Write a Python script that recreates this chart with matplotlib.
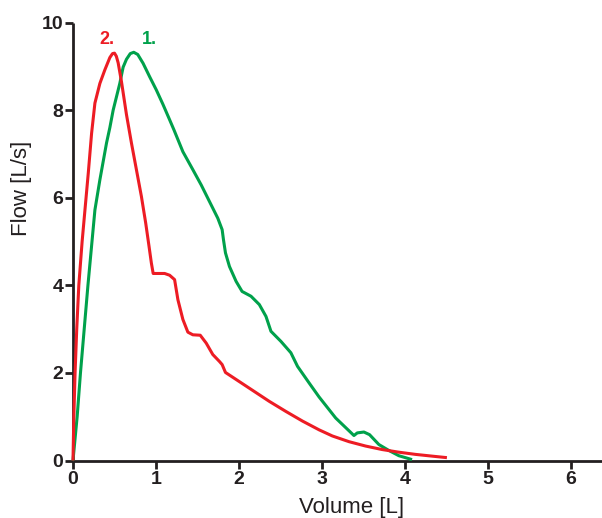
import matplotlib
matplotlib.use("Agg")
import matplotlib.pyplot as plt

# Data (Volume [L], Flow [L/s])
green_x = [0, 0.05, 0.09, 0.18, 0.264, 0.324, 0.404, 0.444, 0.484, 0.564, 0.604, 0.644,
           0.69, 0.732, 0.78, 0.844, 0.924, 1.004, 1.084, 1.164, 1.216, 1.324, 1.444,
           1.545, 1.645, 1.745, 1.797, 1.813, 1.837, 1.885, 1.965, 2.037, 2.145, 2.245,
           2.325, 2.385, 2.505, 2.625, 2.705, 2.845, 2.965, 3.165, 3.385, 3.425, 3.505,
           3.573, 3.685, 3.805, 3.925, 4.085]
green_y = [0, 1.0, 2.0, 4.0, 5.72, 6.41, 7.25, 7.6, 8.0, 8.61, 8.98, 9.16,
           9.29, 9.32, 9.27, 9.07, 8.76, 8.46, 8.13, 7.78, 7.55, 7.05, 6.64,
           6.29, 5.91, 5.53, 5.27, 5.04, 4.74, 4.43, 4.09, 3.86, 3.75, 3.56,
           3.29, 2.95, 2.72, 2.46, 2.15, 1.77, 1.45, 0.97, 0.57, 0.63, 0.65,
           0.59, 0.365, 0.23, 0.11, 0.02]

red_x = [0, 0.01, 0.025, 0.045, 0.07, 0.11, 0.144, 0.184, 0.224, 0.264, 0.324, 0.384,
         0.444, 0.476, 0.50, 0.522, 0.544, 0.584, 0.644, 0.704, 0.764, 0.824, 0.876,
         0.916, 0.944, 0.966, 1.104, 1.164, 1.224, 1.264, 1.324, 1.384, 1.444, 1.533,
         1.605, 1.684, 1.765, 1.797, 1.837, 1.965, 2.165, 2.365, 2.565, 2.765, 2.965,
         3.125, 3.325, 3.525, 3.725, 3.925, 4.125, 4.325, 4.505]
red_y = [0, 1.0, 2.0, 3.0, 4.0, 5.0, 5.72, 6.56, 7.47, 8.16, 8.61, 8.92,
         9.20, 9.29, 9.30, 9.23, 9.08, 8.65, 7.9, 7.25, 6.64, 6.03, 5.42,
         4.89, 4.51, 4.27, 4.27, 4.23, 4.13, 3.67, 3.22, 2.93, 2.87, 2.86,
         2.68, 2.42, 2.26, 2.19, 2.01, 1.85, 1.60, 1.35, 1.12, 0.90, 0.70,
         0.56, 0.43, 0.33, 0.25, 0.19, 0.14, 0.10, 0.065]

x_ticks = [0, 1, 2, 3, 4, 5, 6]
y_ticks = [0, 2, 4, 6, 8, 10]
labels = ["1.", "2."]
label_pos = [(0.92, 9.62), (0.41, 9.62)]

GREEN = "#00A14B"
RED = "#ED1C24"
INK = "#231F20"

plt.rcParams['font.family'] = ['Liberation Sans', 'DejaVu Sans']

fig = plt.figure(figsize=(6.02, 5.18), dpi=100)
ax = fig.add_axes([73 / 602, (518 - 460.5) / 518, 529 / 602, 438 / 518])

ax.plot(green_x, green_y, color=GREEN, lw=2.2, clip_on=False,
        solid_joinstyle='round', solid_capstyle='butt', zorder=3)
ax.plot(red_x, red_y, color=RED, lw=2.2, clip_on=False,
        solid_joinstyle='round', solid_capstyle='butt', zorder=4)

for txt, (lx, ly), c in zip(labels, label_pos, [GREEN, RED]):
    ax.text(lx, ly, txt, color=c, fontsize=13, fontweight='bold', ha='center', va='center')

ax.set_xlim(0, 529 / 83.0)
ax.set_ylim(0, 10)
ax.set_xticks(x_ticks)
ax.set_yticks(y_ticks)

for s in ['top', 'right']:
    ax.spines[s].set_visible(False)
for s in ['left', 'bottom']:
    ax.spines[s].set_linewidth(2.0)
    ax.spines[s].set_color(INK)
    ax.spines[s].set_capstyle('butt')

ax.tick_params(axis='both', direction='out', length=6, width=2.0, color=INK,
               labelsize=14, labelcolor=INK)
ax.tick_params(axis='x', pad=1.5)
ax.tick_params(axis='y', pad=1)
for lab in ax.get_xticklabels() + ax.get_yticklabels():
    lab.set_fontweight('bold')

ax.set_xlabel("Volume [L]", fontsize=16, color=INK)
ax.xaxis.set_label_coords(0.527, -0.083)
ax.set_ylabel("Flow [L/s]", fontsize=16, color=INK, va='center', ha='center')
ax.yaxis.set_label_coords(-0.098, 0.622)

fig.savefig("out.png", dpi=100)
